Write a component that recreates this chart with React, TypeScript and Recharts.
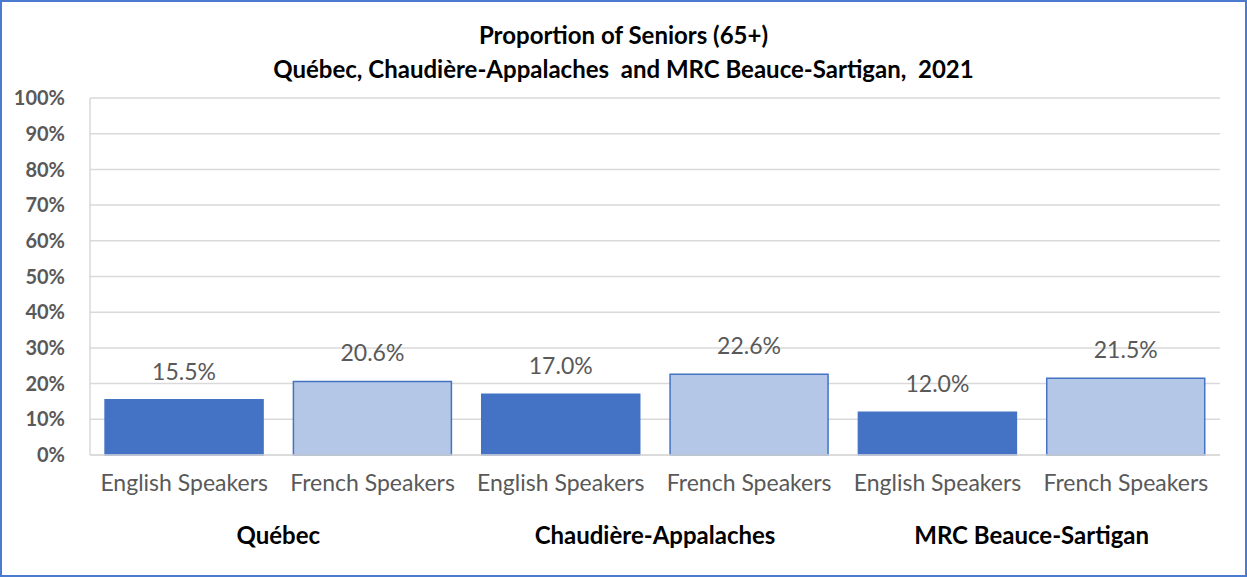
import { Bar, BarChart, CartesianGrid, Cell, LabelList, XAxis, YAxis } from "recharts"

const categories = [
  "English Speakers",
  "French Speakers",
  "English Speakers",
  "French Speakers",
  "English Speakers",
  "French Speakers",
]
const values = [15.5, 20.6, 17.0, 22.6, 12.0, 21.5]
const groups = ["Québec", "Chaudière-Appalaches", "MRC Beauce-Sartigan"]
const yTicks = [0, 10, 20, 30, 40, 50, 60, 70, 80, 90, 100]

const data = categories.map((name, i) => ({
  id: i,
  name,
  group: groups[Math.floor(i / 2)],
  value: values[i],
}))

const FONT = "Lato, 'Open Sans', sans-serif"
const DARK = "#4472C4"
const LIGHT = "#B4C7E7"
const GRID = "#D9D9D9"

export default function App() {
  return (
    <div style={{ position: "absolute", left: 0, top: 0, width: 1247, height: 577, background: "#fff", fontFamily: FONT }}>
      <div
        style={{
          position: "absolute",
          left: 0,
          top: 0,
          width: 1247,
          height: 577,
          boxSizing: "border-box",
          border: "2px solid #4A7BD0",
          pointerEvents: "none",
          zIndex: 2,
        }}
      />
      <div
        style={{
          position: "absolute",
          left: 0,
          top: 18,
          width: 1247,
          textAlign: "center",
          fontWeight: "bold",
          fontSize: 24,
          lineHeight: "34px",
          color: "#000",
          whiteSpace: "pre",
          zIndex: 1,
        }}
      >
        <div>Proportion of Seniors (65+)</div>
        <div>Québec, Chaudière-Appalaches  and MRC Beauce-Sartigan,  2021</div>
      </div>
      <BarChart
        width={1247}
        height={577}
        data={data}
        margin={{ top: 98, right: 27, left: 10, bottom: 22 }}
        barCategoryGap="8%"
        style={{ fontFamily: FONT }}
      >
        <CartesianGrid vertical={false} stroke={GRID} strokeWidth={1.5} />
        <XAxis
          dataKey="id"
          tickFormatter={(i) => categories[i]}
          axisLine={{ stroke: GRID, strokeWidth: 1.5 }}
          tickLine={false}
          tickSize={0}
          tickMargin={20}
          height={50}
          interval={0}
          tick={{ fill: "#595959", fontSize: 23 }}
        />
        <XAxis
          xAxisId="group"
          dataKey="group"
          allowDuplicatedCategory={false}
          axisLine={false}
          tickLine={false}
          tickSize={0}
          tickMargin={22}
          height={50}
          interval={0}
          tick={{ fill: "#000", fontSize: 24, fontWeight: "bold" }}
        />
        <YAxis
          domain={[0, 100]}
          ticks={yTicks}
          tickFormatter={(v) => `${v}%`}
          axisLine={{ stroke: GRID, strokeWidth: 1.5 }}
          tickLine={false}
          tickSize={0}
          tickMargin={25}
          width={80}
          interval={0}
          tick={{ fill: "#595959", fontSize: 20, fontWeight: "bold" }}
        />
        <YAxis
          yAxisId="right"
          orientation="right"
          domain={[0, 100]}
          tick={false}
          tickLine={false}
          axisLine={{ stroke: GRID, strokeWidth: 1.5 }}
          width={0}
        />
        <Bar dataKey="value" isAnimationActive={false} strokeWidth={1.5}>
          {data.map((d, i) => (
            <Cell key={d.id} fill={i % 2 === 0 ? DARK : LIGHT} stroke={DARK} />
          ))}
          <LabelList
            dataKey="value"
            position="top"
            offset={20}
            formatter={(v: number) => `${v.toFixed(1)}%`}
            style={{ fill: "#595959", fontSize: 23 }}
          />
        </Bar>
      </BarChart>
    </div>
  )
}
